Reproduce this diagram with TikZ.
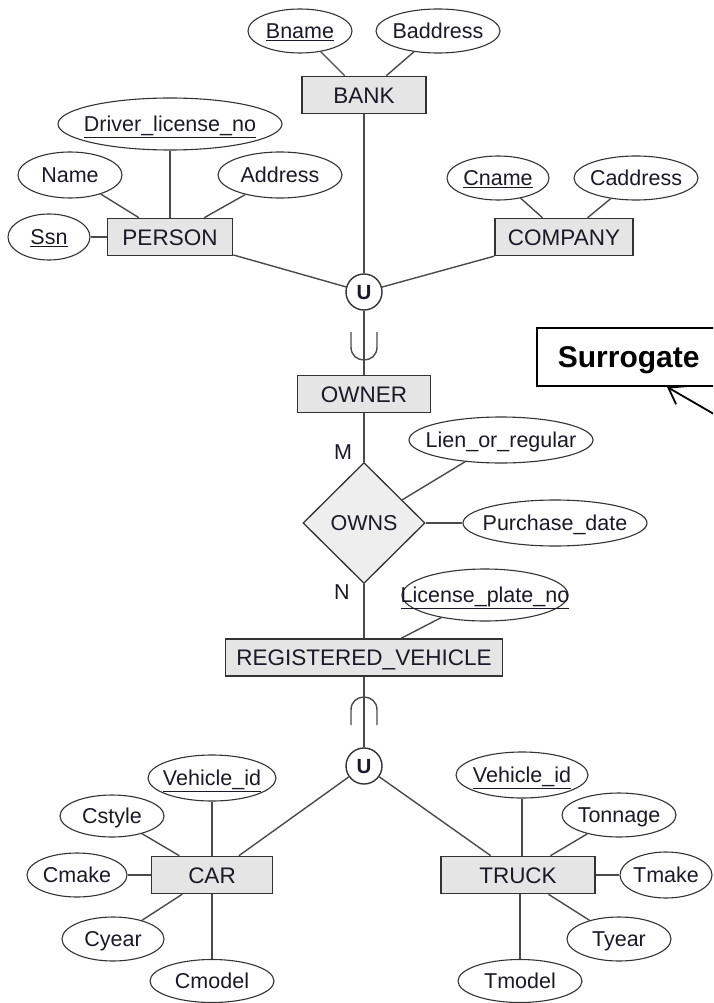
\documentclass[tikz,border=0pt]{standalone}
\usepackage{fontspec}
\setmainfont{Liberation Sans}
\usetikzlibrary{shapes.geometric,arrows.meta}
\definecolor{entfill}{HTML}{E5E5E5}
\definecolor{relfill}{HTML}{EEEEEE}
\definecolor{linec}{HTML}{4A4A4A}
\definecolor{edgec}{HTML}{333333}
\definecolor{txt}{HTML}{1A1A26}
\newcommand\ctr[1]{\makebox[0pt][c]{#1}}
\newcommand\pk[1]{\underline{#1}}
\begin{document}
\begin{tikzpicture}[x=1pt,y=-1pt,
  every node/.style={font=\fontsize{21.5}{26}\selectfont, text=txt, inner sep=0pt, text height=15.4pt, text depth=0pt},
  ent/.style={draw=edgec, line width=1.6pt, fill=entfill, minimum width=#1, minimum height=37, font=\fontsize{22.5}{27}\selectfont, text height=16.1pt},
  attr/.style 2 args={ellipse, draw=edgec, line width=1.1pt, fill=white, minimum width=#1, minimum height=#2},
  rel/.style={diamond, draw=edgec, line width=1.3pt, fill=relfill, minimum width=122, minimum height=121},
  unode/.style={circle, draw=edgec, line width=1.4pt, fill=white, minimum size=36, font=\bfseries\fontsize{20.5}{24}\selectfont, text height=14.7pt},
  conn/.style={draw=linec, line width=1.4pt},
  surbox/.style={draw=black, line width=1.8pt, fill=white, minimum height=58, text width=260pt, align=left, inner xsep=21pt, text=black, font=\bfseries\fontsize{30}{36}\selectfont, text height=21.5pt, anchor=west},
  note/.style={draw=black, line width=1.8pt, -{Straight Barb[length=15pt,width=21pt]}}
]
\useasboundingbox (0,0) rectangle (713,1003);
\clip (0,0) rectangle (713,1003);

% top part
\node[attr={104}{44}] (bname) at (300,31) {\ctr{\pk{Bname}}};
\node[attr={124}{44}] (baddr) at (438,31) {\ctr{Baddress}};
\node[ent=124] (bank) at (364,95) {BANK};
\node[attr={224}{52}] (drv) at (170,124) {\ctr{\pk{Driver\_license\_no}}};
\node[attr={104}{46}] (name) at (70,175) {\ctr{Name}};
\node[attr={124}{46}] (addr) at (280,175) {\ctr{Address}};
\node[attr={82}{46}] (ssn) at (49,237) {\ctr{\pk{Ssn}}};
\node[ent=125] (person) at (170,237) {PERSON};
\node[attr={102}{44}] (cname) at (498,178) {\ctr{\pk{Cname}}};
\node[attr={124}{44}] (caddr) at (636,178) {\ctr{Caddress}};
\node[ent=138] (company) at (564,237) {COMPANY};
\node[unode] (u1) at (364,292) {U};

% middle
\node[ent=133] (owner) at (364,394) {OWNER};
\node[rel] (owns) at (364,523) {OWNS};
\node (m) at (343,452) {M};
\node (n) at (342,592) {N};
\node[attr={184}{46}] (lien) at (501,440) {\ctr{Lien\_or\_regular}};
\node[attr={184}{46}] (pdate) at (555,523) {\ctr{Purchase\_date}};
\node[attr={166}{52}] (lic) at (485,595) {\ctr{\pk{License\_plate\_no}}};
\node[ent=277] (reg) at (364,657.5) {REGISTERED\_VEHICLE};
\node[unode] (u2) at (364,766) {U};

% bottom
\node[ent=121] (car) at (212,875) {CAR};
\node[attr={128}{46}] (vid1) at (212,778) {\ctr{\pk{Vehicle\_id}}};
\node[attr={104}{42}] (cstyle) at (112,816) {\ctr{Cstyle}};
\node[attr={100}{44}] (cmake) at (77,875) {\ctr{Cmake}};
\node[attr={102}{44}] (cyear) at (113,939) {\ctr{Cyear}};
\node[attr={124}{43}] (cmodel) at (212,981) {\ctr{Cmodel}};
\node[ent=154] (truck) at (518,875) {TRUCK};
\node[attr={132}{46}] (vid2) at (522,775) {\ctr{\pk{Vehicle\_id}}};
\node[attr={114}{44}] (tonnage) at (619,815) {\ctr{Tonnage}};
\node[attr={92}{46}] (tmake) at (666,875) {\ctr{Tmake}};
\node[attr={104}{44}] (tyear) at (619,939) {\ctr{Tyear}};
\node[attr={124}{43}] (tmodel) at (520,981) {\ctr{Tmodel}};

% surrogate note
\node[surbox] (sur) at (536,357) {Surrogate};
\coordinate (sa) at (745,432);
\draw[note] (sa) -- ([xshift=131pt]sur.south west);

% connectors
\draw[conn] (bname) -- (bank);
\draw[conn] (baddr) -- (bank);
\draw[conn] (bank) -- (u1);
\draw[conn] (drv) -- (person);
\draw[conn] (name) -- (person);
\draw[conn] (addr) -- (person);
\draw[conn] (ssn) -- (person);
\draw[conn] (cname) -- (company);
\draw[conn] (caddr) -- (company);
\draw[conn] (person) -- (u1);
\draw[conn] (company) -- (u1);
\draw[conn] (u1) -- (owner);
\draw[conn] (owner) -- (owns);
\draw[conn] (lien) -- (owns);
\draw[conn] (pdate) -- (owns);
\draw[conn] (owns) -- (reg);
\draw[conn] (lic) -- (reg);
\draw[conn] (reg) -- (u2);
\draw[conn] (u2) -- (car);
\draw[conn] (u2) -- (truck);
\draw[conn] (vid1) -- (car);
\draw[conn] (cstyle) -- (car);
\draw[conn] (cmake) -- (car);
\draw[conn] (cyear) -- (car);
\draw[conn] (cmodel) -- (car);
\draw[conn] (vid2) -- (vid2 |- truck.north);
\draw[conn] (tonnage) -- (truck);
\draw[conn] (tmake) -- (truck);
\draw[conn] (tyear) -- (truck);
\draw[conn] (tmodel) -- (tmodel |- truck.south);

% subset symbols
\draw[conn] (351,332) -- (351,347) .. controls (351,364.3) and (377,364.3) .. (377,347) -- (377,332);
\draw[conn] (351,725) -- (351,710) .. controls (351,692.7) and (377,692.7) .. (377,710) -- (377,725);
\end{tikzpicture}
\end{document}
